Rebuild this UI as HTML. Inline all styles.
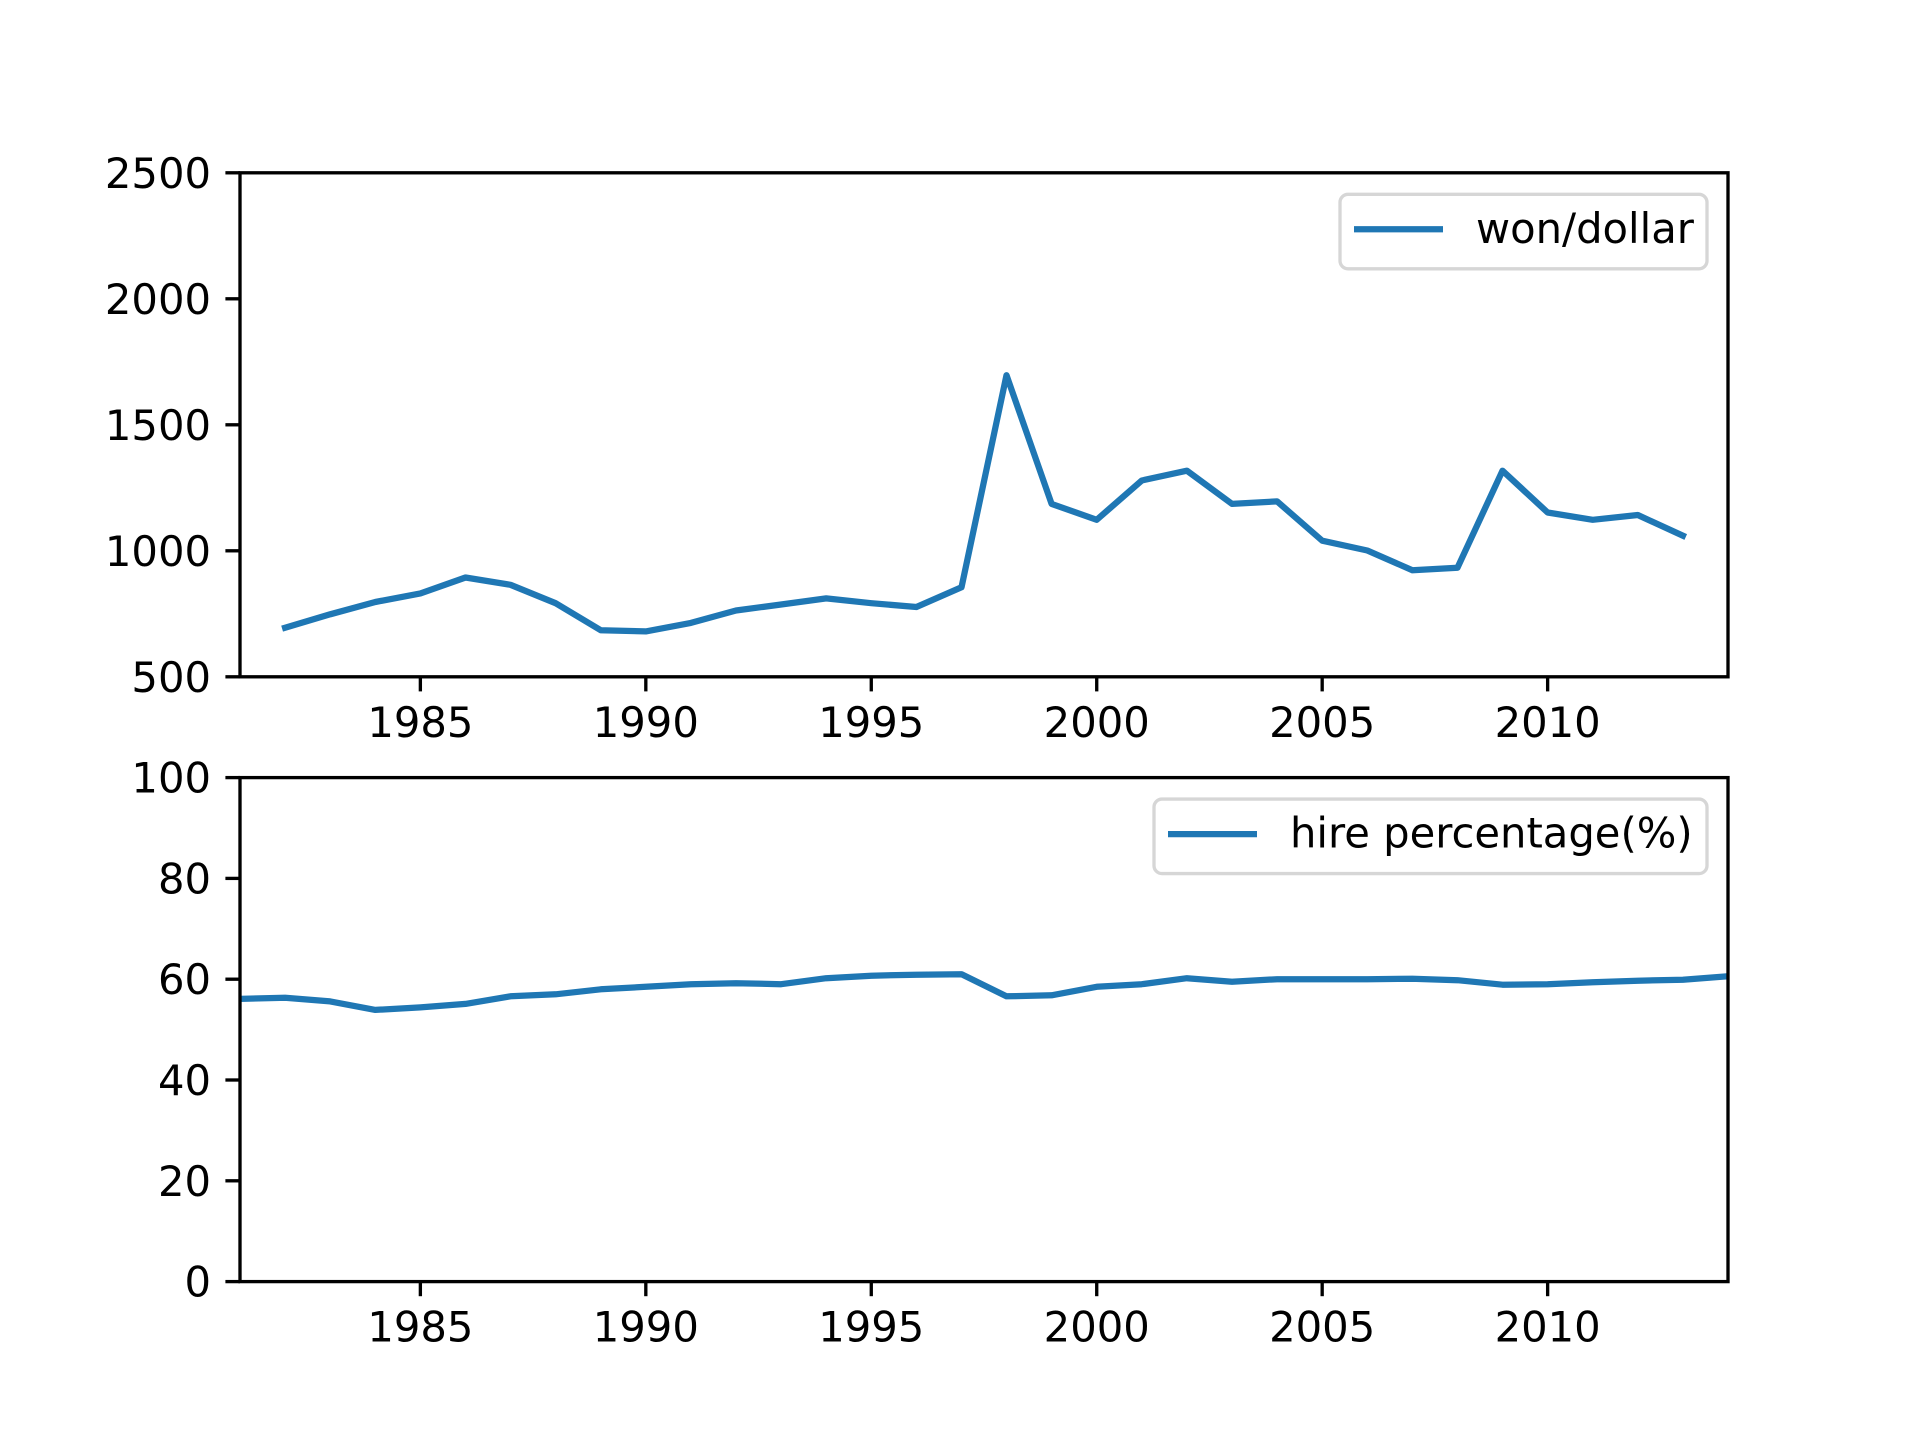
<!DOCTYPE html>
<html><head><meta charset="utf-8"><style>
html,body{margin:0;padding:0;background:#fff;}
svg text{font-family:"DejaVu Sans","Liberation Sans",sans-serif;font-size:41.7px;fill:#000;}
</style></head><body>
<svg id="chart" width="1920" height="1440" xmlns="http://www.w3.org/2000/svg"></svg>
<script>
const yearsTop = [1982,1983,1984,1985,1986,1987,1988,1989,1990,1991,1992,1993,1994,1995,1996,1997,1998,1999,2000,2001,2002,2003,2004,2005,2006,2007,2008,2009,2010,2011,2012,2013];
const wonDollar = [695,748,797,831,894,865,792,685,680,714,763,787,811,792,777,855,1697,1186,1123,1279,1318,1186,1196,1040,1001,923,933,1318,1152,1123,1142,1060];
const yearsBottom = [1981,1982,1983,1984,1985,1986,1987,1988,1989,1990,1991,1992,1993,1994,1995,1996,1997,1998,1999,2000,2001,2002,2003,2004,2005,2006,2007,2008,2009,2010,2011,2012,2013,2014];
const hirePct = [56.1,56.3,55.6,53.9,54.4,55.1,56.6,57.0,58.0,58.5,59.0,59.2,59.0,60.2,60.7,60.9,61.0,56.6,56.8,58.5,59.0,60.2,59.5,60.0,60.0,60.0,60.1,59.8,58.9,59.0,59.4,59.7,59.9,60.6];
const xTicks = [1985,1990,1995,2000,2005,2010];
const yTicksTop = [500,1000,1500,2000,2500];
const yTicksBottom = [0,20,40,60,80,100];

const NS='http://www.w3.org/2000/svg';
const svg=document.getElementById('chart');
function mk(tag,attrs,parent){const e=document.createElementNS(NS,tag);for(const k in attrs)e.setAttribute(k,attrs[k]);(parent||svg).appendChild(e);return e;}
const L=240,R=1728,xMin=1981,xMax=2014;
const xs=v=>L+(v-xMin)/(xMax-xMin)*(R-L);

function panel(name,top,bot,yMin,yMax,xsData,ys,yTicks,label,legX,legW){
  const ysc=v=>bot-(v-yMin)/(yMax-yMin)*(bot-top);
  const g=mk('g',{});
  
  
  const clipId=name+'-clip';
  const cp=mk('clipPath',{id:clipId},g);
  mk('rect',{x:L,y:top,width:R-L,height:bot-top},cp);
  const pts=xsData.map((x,i)=>xs(x).toFixed(1)+','+ysc(ys[i]).toFixed(1)).join(' ');
  const line=mk('polyline',{points:pts,fill:'none',stroke:'#1f77b4','stroke-width':6.25,'stroke-linejoin':'round','stroke-linecap':'square','clip-path':'url(#'+clipId+')'},g);
  
  
  const frame=mk('rect',{x:L,y:top,width:R-L,height:bot-top,fill:'none',stroke:'#000','stroke-width':3.33},g);
  
  
  xTicks.forEach(t=>{
    const x=xs(t);
    mk('line',{x1:x,y1:bot,x2:x,y2:bot+14.6,stroke:'#000','stroke-width':3.33},g);
    const tx=mk('text',{x:x,y:bot+60,'text-anchor':'middle'},g);
    tx.textContent=t;
    
    
  });
  yTicks.forEach(t=>{
    const y=ysc(t);
    mk('line',{x1:L-14.6,y1:y,x2:L,y2:y,stroke:'#000','stroke-width':3.33},g);
    const tx=mk('text',{x:L-29,y:y+15,'text-anchor':'end'},g);
    tx.textContent=t;
    
    
  });
  const lg=mk('g',{},g);
  
  
  mk('rect',{x:legX,y:top+21.5,width:legW,height:74.5,rx:8,fill:'#fff','fill-opacity':0.8,stroke:'#d6d6d6','stroke-width':3.33},lg);
  mk('line',{x1:legX+14,y1:top+56.5,x2:legX+103,y2:top+56.5,stroke:'#1f77b4','stroke-width':6.25},lg);
  const lt=mk('text',{x:legX+136,y:top+70},lg);
  lt.textContent=label;
  
  
}
panel('won-dollar-panel',172.8,676.8,500,2500,yearsTop,wonDollar,yTicksTop,'won/dollar',1340,367);
panel('hire-percentage-panel',777.6,1281.6,0,100,yearsBottom,hirePct,yTicksBottom,'hire percentage(%)',1154,553);
</script>
</body></html>
